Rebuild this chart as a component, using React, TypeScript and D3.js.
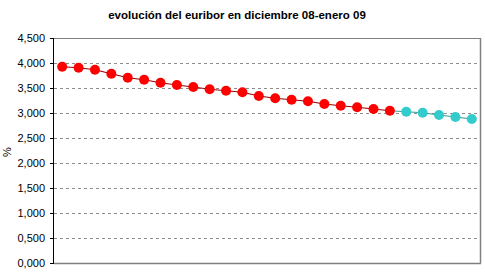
import React from "react";
import * as d3 from "d3";

const title = "evolución del euribor en diciembre 08-enero 09";
const yTicks = [0, 0.5, 1, 1.5, 2, 2.5, 3, 3.5, 4, 4.5];
const redValues = [
  3.925, 3.905, 3.865, 3.785, 3.705, 3.665, 3.605, 3.56, 3.52, 3.475, 3.445,
  3.415, 3.34, 3.295, 3.265, 3.235, 3.18, 3.145, 3.115, 3.08, 3.045,
];
const cyanValues = [3.025, 3.005, 2.96, 2.92, 2.88];

const W = 485;
const H = 279;
const left = 54;
const right = 480;
const top = 38;
const bottom = 263;

export default function App() {
  const allValues = [...redValues, ...cyanValues];
  const idx = allValues.map((_, i) => i);
  const x = d3.scaleBand<number>().domain(idx).range([left, right]);
  const cx = (i: number) => (x(i) as number) + x.bandwidth() / 2;
  const y = d3.scaleLinear().domain([0, 4.5]).range([bottom, top]);
  const fmt = (v: number) => d3.format(".3f")(v).replace(".", ",");

  const redPts = redValues.map((v, i) => [cx(i), y(v)] as [number, number]);
  const n = redValues.length;
  const cyanPts = cyanValues.map((v, i) => [cx(n + i), y(v)] as [number, number]);
  const line = d3.line();
  const cyanLinePts = [redPts[redPts.length - 1], ...cyanPts];

  return (
    <svg
      width={W}
      height={H}
      style={{ position: "absolute", left: 0, top: 0, background: "#fff" }}
      fontFamily="Liberation Sans, Arial, sans-serif"
    >
      <text x={237} y={19} textAnchor="middle" fontSize={11.5} fontWeight="bold" fill="#000">
        {title}
      </text>
      {/* gridlines */}
      {yTicks.filter((t) => t > 0 && t < 4.5).map((t) => (
        <line key={t} x1={left} x2={right} y1={Math.round(y(t)) + 0.5} y2={Math.round(y(t)) + 0.5}
          stroke="#8c8c8c" strokeDasharray="3,3" />
      ))}
      {/* frame */}
      <line x1={left} x2={right} y1={top + 0.5} y2={top + 0.5} stroke="#808080" />
      <line x1={right + 0.5} x2={right + 0.5} y1={top} y2={bottom} stroke="#808080" strokeWidth={1.5} />
      <line x1={left} x2={right + 1} y1={bottom + 0.5} y2={bottom + 0.5} stroke="#808080" strokeWidth={1.5} />
      <line x1={left - 0.5} x2={left - 0.5} y1={top} y2={bottom + 1} stroke="#000" />
      {/* ticks */}
      {yTicks.map((t) => (
        <g key={t}>
          <line x1={left - 4} x2={left} y1={Math.round(y(t)) + 0.5} y2={Math.round(y(t)) + 0.5} stroke="#000" />
          <text x={45} y={y(t) + 4} textAnchor="end" fontSize={11} fill="#000">{fmt(t)}</text>
        </g>
      ))}
      <text transform={`translate(11,152) rotate(-90)`} textAnchor="middle" fontSize={11} fill="#000">%</text>
      {/* series */}
      <path d={line(redPts) || ""} fill="none" stroke="#990000" strokeWidth={1.2} />
      <path d={line(cyanLinePts) || ""} fill="none" stroke="#339999" strokeWidth={1.2} />
      {redPts.map(([px, py], i) => (
        <circle key={"r" + i} cx={px} cy={py} r={5} fill="#ff0000" />
      ))}
      {cyanPts.map(([px, py], i) => (
        <circle key={"c" + i} cx={px} cy={py} r={5} fill="#33cccc" />
      ))}
    </svg>
  );
}
